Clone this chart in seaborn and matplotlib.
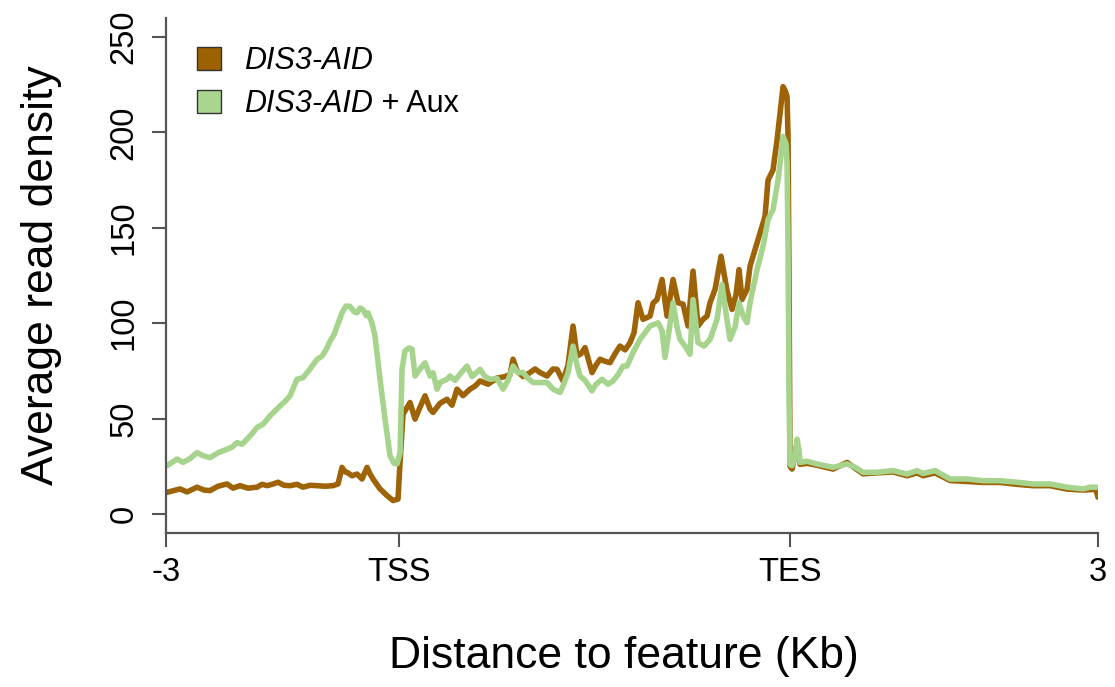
import numpy as np
import pandas as pd
import matplotlib
matplotlib.use("Agg")
import matplotlib.pyplot as plt
import seaborn as sns
from matplotlib.patches import Patch

# ---------------- data (metagene profile, bins along the scaled axis) ----------------
series_names = ["DIS3-AID", "DIS3-AID + Aux"]
line_colors = ["#9E6306", "#A6D48D"]

bins_dis3 = [1, 6, 14, 21, 31, 38, 44, 52, 61, 67, 74, 82, 91, 96, 101, 106, 112, 118, 124, 131,
             137, 144, 151, 159, 167, 172, 176, 179, 181, 186, 191, 196, 201, 204, 207, 214, 221,
             227, 232, 234, 237, 244, 249, 254, 259, 264, 267, 274, 281, 286, 291, 297, 304, 309,
             314, 322, 331, 339, 344, 347, 351, 357, 364, 369, 374, 381, 387, 391, 397, 402, 407,
             411, 415, 419, 426, 430, 434, 439, 444, 449, 454, 459, 464, 468, 472, 477, 484, 487,
             491, 496, 501, 507, 512, 517, 522, 527, 532, 537, 541, 544, 549, 555, 561, 566, 570,
             573, 576, 581, 584, 589, 594, 599, 602, 607, 611, 614, 617, 619, 621, 622, 623, 624,
             626, 631, 634, 641, 651, 667, 681, 689, 697, 711, 727, 741, 751, 757, 769, 784, 801,
             817, 834, 851, 867, 884, 901, 917, 927, 930, 932]
dens_dis3 = [11.3, 12, 13.1, 11.5, 14.0, 12.5, 12.2, 14.5, 15.7, 13.5, 14.8, 13.5, 14.0, 15.5, 14.8,
             15.5, 16.6, 15, 14.8, 15.5, 14.0, 15, 14.8, 14.5, 14.8, 15.7, 24.4, 22, 21.8, 20, 20.9,
             18.3, 24.4, 21, 18.3, 13.1, 9.6, 7.0, 7.8, 27.0, 52.3, 58.4, 49.7, 56, 61.9, 55, 53.2,
             58, 60.1, 57, 65.4, 62, 65.4, 67, 69.7, 68, 71.2, 72, 73, 81.1, 75, 72, 74.1, 76, 74.1,
             72.3, 76, 75.8, 69.7, 78, 98.5, 82.8, 84, 87.2, 74.1, 78, 81.1, 80, 79.3, 84, 88, 86,
             89.8, 95, 110.7, 102, 103.7, 110.5, 112.4, 122.9, 103.7, 122.9, 110.7, 110, 98.5, 127.3,
             98.5, 102, 103.7, 110.7, 117.7, 135.1, 117, 107.2, 115, 128.1, 112.4, 117.7, 129.9,
             138.6, 147.3, 156, 175, 180.4, 196, 210, 224, 222, 218.8, 198, 120, 25, 23.5, 37, 26,
             26.5, 25.5, 23.5, 27, 24, 21, 21.5, 22, 20, 21.5, 20, 21.5, 17.5, 17, 16.5, 16.5, 15.5,
             14.8, 14.8, 13, 12.5, 12.8, 12.5, 8.7]

bins_aux = [1, 6, 11, 17, 24, 31, 37, 44, 52, 61, 66, 71, 76, 81, 86, 91, 97, 104, 109, 114, 119,
            124, 131, 137, 144, 151, 156, 160, 164, 168, 171, 176, 180, 184, 188, 191, 194, 197, 200,
            202, 206, 209, 214, 219, 224, 228, 231, 234, 236, 239, 243, 246, 249, 254, 259, 264, 267,
            271, 274, 281, 284, 289, 295, 301, 306, 314, 319, 324, 331, 337, 342, 347, 352, 357, 362,
            367, 374, 381, 387, 394, 397, 402, 407, 411, 414, 419, 426, 430, 436, 442, 447, 452, 457,
            461, 467, 474, 479, 484, 492, 496, 499, 503, 507, 511, 514, 519, 524, 527, 532, 538, 544,
            551, 556, 560, 564, 569, 573, 577, 581, 584, 591, 597, 602, 607, 612, 615, 617, 620, 621,
            622, 623, 624, 626, 629, 631, 633, 634, 641, 651, 667, 681, 689, 697, 711, 727, 741, 751,
            757, 769, 784, 801, 817, 834, 851, 867, 884, 901, 917, 924, 931]
dens_aux = [25.3, 27, 28.8, 27.0, 29, 32.1, 30.5, 29.5, 32, 33.9, 35, 37.4, 36.5, 39.2, 42, 45.3, 47,
            51.4, 54, 56.6, 59, 61.9, 70.6, 71.4, 76, 81.0, 82.7, 86, 90.6, 94, 98.4, 105.4, 109,
            108.8, 106, 105.4, 108, 107.1, 104, 105.4, 100, 93.2, 70.6, 49.7, 30.5, 26.5, 26.2, 32.1,
            75.9, 85.5, 87, 86.4, 72.3, 76, 79.2, 72.3, 74, 65.4, 68.9, 70.6, 72.3, 70, 74, 77.5, 72,
            75.8, 72, 70.6, 71, 65.4, 70, 77.5, 74, 74.1, 71, 68.9, 68.9, 68.9, 65.4, 63.7, 67.1, 74,
            88, 78, 72.3, 70, 64.5, 68, 70.6, 68, 69.7, 73, 77.5, 77.5, 84.6, 91.5, 95, 98.5, 100.2,
            96, 82, 96, 110.7, 98, 91.5, 88, 83.7, 112.4, 89.8, 88, 91.5, 102, 120.3, 105, 91.5, 98,
            110.7, 104, 100.2, 110.7, 128.1, 140.3, 154.3, 159.5, 175, 188, 197.9, 194, 184, 140, 60,
            26, 25.3, 30, 39.2, 33, 27, 27.6, 26.2, 24.4, 26.2, 24.5, 21.8, 21.8, 22.7, 20.9, 22.7,
            21.2, 22.7, 18.3, 18.3, 17.4, 17.4, 16.6, 15.7, 15.7, 14, 13.1, 14, 14]

x_tick_pos = [0, 233, 624, 932]
x_tick_labels = ["-3", "TSS", "TES", "3"]
y_ticks = [0, 50, 100, 150, 200, 250]

# ---------------- build long-form table ----------------
df = pd.concat([
    pd.DataFrame({"bin": bins_dis3, "density": dens_dis3, "sample": series_names[0]}),
    pd.DataFrame({"bin": bins_aux, "density": dens_aux, "sample": series_names[1]}),
], ignore_index=True)

# ---------------- styling ----------------
sns.set_style("ticks")
plt.rcParams["font.family"] = ["Liberation Sans", "DejaVu Sans"]
plt.rcParams["text.color"] = "black"
plt.rcParams["axes.labelcolor"] = "black"
axis_col = "#555555"

fig = plt.figure(figsize=(11.15, 6.87), dpi=100)
ax = fig.add_axes([0.1489, 0.2242, 0.8359, 0.7496])

sns.lineplot(data=df, x="bin", y="density", hue="sample", hue_order=series_names,
             palette=dict(zip(series_names, line_colors)), estimator=None, sort=True,
             linewidth=4.0, legend=False, ax=ax)

ax.set_xlim(0, 932)
ax.set_ylim(-10, 260)
ax.set_xticks(x_tick_pos)
ax.set_xticklabels(x_tick_labels)
ax.set_yticks(y_ticks)
ax.set_yticklabels([str(v) for v in y_ticks], rotation=90, va="center")

for side in ["top", "right"]:
    ax.spines[side].set_visible(False)
for side in ["left", "bottom"]:
    ax.spines[side].set_color(axis_col)
    ax.spines[side].set_linewidth(1.6)

ax.tick_params(axis="both", direction="out", length=10, width=1.5, color=axis_col,
               labelsize=23.5, labelcolor="black")
ax.tick_params(axis="y", pad=9)
ax.tick_params(axis="x", pad=7)

ax.set_xlabel("Distance to feature (Kb)", fontsize=32, color="black")
ax.set_ylabel("Average read density", fontsize=32, color="black")
ax.xaxis.set_label_coords(0.491, -0.20)
ax.yaxis.set_label_coords(-0.112, 0.5)

handles = [Patch(facecolor="#9C6100", edgecolor="#333333", linewidth=1.0),
           Patch(facecolor="#A8D590", edgecolor="#333333", linewidth=1.0)]
leg = ax.legend(handles, ["DIS3-AID", "DIS3-AID"], loc="upper left",
                bbox_to_anchor=(0.033, 0.945), frameon=False, borderpad=0,
                borderaxespad=0, handlelength=0.8, handleheight=0.8,
                handletextpad=0.75, labelspacing=0.41,
                prop={"size": 22, "style": "italic", "family": ["Liberation Sans", "DejaVu Sans"]})
for t in leg.get_texts():
    t.set_color("black")

fig.canvas.draw()
renderer = fig.canvas.get_renderer()
bb = leg.get_texts()[1].get_window_extent(renderer)
px, py = fig.transFigure.inverted().transform((bb.x1, bb.y0))
fig.text(px, py, " + Aux", fontsize=22, va="bottom", ha="left", color="black",
         family=["Liberation Sans", "DejaVu Sans"])

fig.savefig("out.png", dpi=100, facecolor="white")
